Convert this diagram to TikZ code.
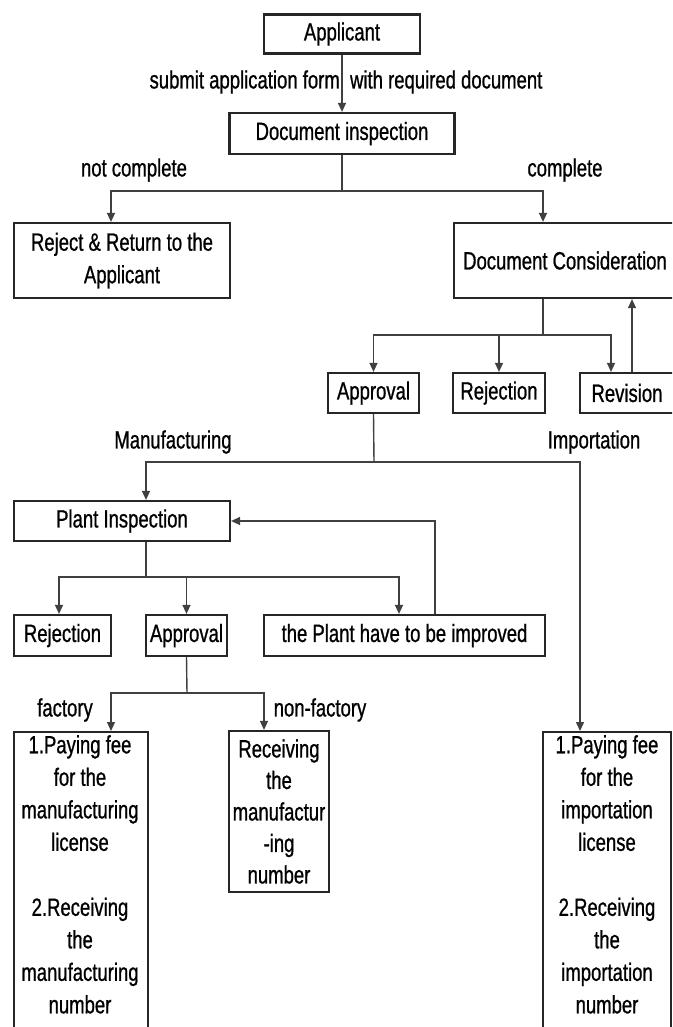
\documentclass[tikz,border=0pt]{standalone}
\usepackage{fontspec}
\setmainfont{Liberation Sans}[FakeStretch=0.74, FakeBold=0.8]
\usetikzlibrary{arrows.meta}
\newcommand\dfont{\fontsize{25}{32.5}\selectfont}
\begin{document}
\begin{tikzpicture}[x=1pt,y=-1pt,
  box/.style={draw=black!85, line width=2.2pt, fill=white, inner sep=0pt, align=center, font=\dfont},
  conn/.style={line width=1.4pt, draw=black!75},
  arr/.style={conn, -{Triangle[length=9pt,width=8pt]}},
  lbl/.style={font=\dfont, inner sep=0pt}]
\clip (0,0) rectangle (672,1027);
\fill[white] (0,0) rectangle (672,1027);
% boxes
\node[box, minimum width=156, minimum height=39] (app) at (342,34) {Applicant};
\node[box, minimum width=225, minimum height=41] (insp) at (342,133.5) {Document inspection};
\node[box, minimum width=216, minimum height=75] (rej) at (122,260.5) {Reject \& Return to the\\Applicant};
\node[box, minimum width=222, minimum height=75] (cons) at (565,260.5) {Document Consideration};
\node[box, minimum width=91, minimum height=40] (ap1) at (373.5,393) {Approval};
\node[box, minimum width=92, minimum height=40] (rj1) at (499,393) {Rejection};
\node[box, minimum width=94, minimum height=40] (rev) at (627,393) {Revision};
\node[box, minimum width=216, minimum height=40] (plant) at (122,521) {Plant Inspection};
\node[box, minimum width=97, minimum height=41] (rj2) at (62.5,635.5) {Rejection};
\node[box, minimum width=81, minimum height=41] (ap2) at (186.5,635.5) {Approval};
\node[box, minimum width=281, minimum height=41] (impr) at (404.5,635.5) {the Plant have to be improved};
\node[box, minimum width=134, minimum height=330, anchor=north] (fac) at (81,731) {};
\node[lbl, anchor=north, align=center] (factxt) at (80,735) {1.Paying fee\\for the\\manufacturing\\license\\[32.5pt]2.Receiving\\the\\manufacturing\\number};
\node[box, minimum width=100, minimum height=161] (nf) at (279,811.5) {Receiving\\[-1pt]the\\[-1pt]manufactur\\[-1pt]-ing\\[-1pt]number};
\node[box, minimum width=128, minimum height=330, anchor=north] (imp) at (607,731) {};
\node[lbl, anchor=north, align=center] (imptxt) at (607,735) {1.Paying fee\\for the\\importation\\license\\[32.5pt]2.Receiving\\the\\importation\\number};
% labels
\node[lbl] (sub) at (346,82) {submit application form\ \ with required document};
\node[lbl] (nc) at (134,170) {not complete};
\node[lbl] (cp) at (565,170) {complete};
\node[lbl] (manu) at (173,442) {Manufacturing};
\node[lbl] (impo) at (594,442) {Importation};
\node[lbl] (fct) at (65,710) {factory};
\node[lbl] (nfct) at (320,710) {non-factory};
% connectors
\draw[arr] (app.south) -- (insp.north);
\coordinate (j1) at (342,191);
\draw[conn] (insp.south) -- (j1);
\draw[arr] (j1) -| ([xshift=-11pt]rej.north);
\draw[arr] (j1) -| ([xshift=-22pt]cons.north);
\coordinate (j2) at (543,335);
\draw[conn] ([xshift=-22pt]cons.south) -- (j2);
\draw[arr] (j2) -| (ap1.north);
\draw[arr] (j2) -| (rj1.north);
\draw[arr] (j2) -| ([xshift=-16pt]rev.north);
\coordinate (revup) at ([xshift=5pt]rev.north);
\draw[arr] (revup) -- (revup |- cons.south);
\coordinate (j3) at (374,462);
\draw[conn] (ap1.south) -- (j3);
\draw[arr] (j3) -| ([xshift=24pt]plant.north);
\draw[arr] (j3) -| ([xshift=-27pt]imp.north);
\coordinate (j4) at (146,577);
\draw[conn] ([xshift=24pt]plant.south) -- (j4);
\draw[arr] (j4) -| ([xshift=-3.5pt]rj2.north);
\draw[arr] (j4) -| (ap2.north);
\draw[arr] (j4) -| ([xshift=-5.5pt]impr.north);
\coordinate (impup) at ([xshift=30.5pt]impr.north);
\draw[arr] (impup) |- (plant.east);
\coordinate (j5) at (187,693);
\draw[conn] (ap2.south) -- (j5);
\draw[arr] (j5) -| ([xshift=30pt]fac.north);
\draw[arr] (j5) -| ([xshift=-15pt]nf.north);
\end{tikzpicture}
\end{document}
